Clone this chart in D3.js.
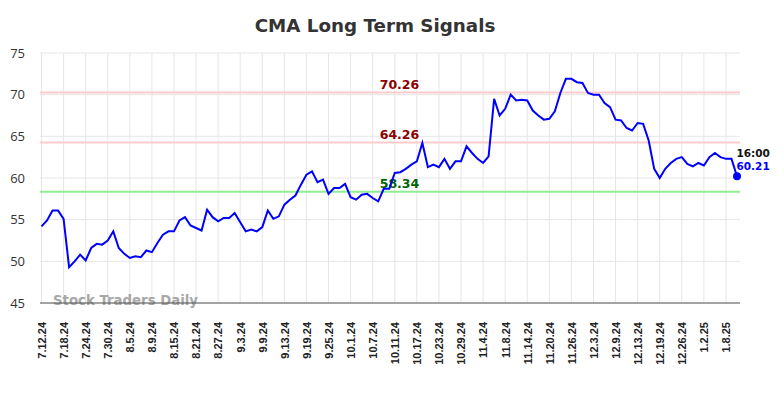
<!DOCTYPE html>
<html>
<head>
<meta charset="utf-8">
<script src="https://cdn.jsdelivr.net/npm/d3@7"></script>
<style>
  body { margin: 0; background: #fff; }
</style>
</head>
<body>
<div id="chart"></div>
<script>

// ─── DATA ───────────────────────────────────────────────────────────────────────
let tickLabels = ['7.12.24', '7.18.24', '7.24.24', '7.30.24', '8.5.24', '8.9.24', '8.15.24', '8.21.24',
  '8.27.24', '9.3.24', '9.9.24', '9.13.24', '9.19.24', '9.25.24', '10.1.24', '10.7.24', '10.11.24',
  '10.17.24', '10.23.24', '10.29.24', '11.4.24', '11.8.24', '11.14.24', '11.20.24', '11.26.24',
  '12.3.24', '12.9.24', '12.13.24', '12.19.24', '12.26.24', '1.2.25', '1.8.25']

// closing values, one per trading day
let closes = [
  54.2, 54.9, 56.1, 56.1, 55.1, 49.3, 50.0, 50.8, 50.1, 51.6,
  52.1, 52.0, 52.5, 53.6, 51.6, 50.9, 50.4, 50.6, 50.5, 51.3,
  51.1, 52.2, 53.2, 53.6, 53.6, 54.9, 55.3, 54.3, 54.0, 53.7,
  56.2, 55.3, 54.8, 55.2, 55.2, 55.8, 54.7, 53.6, 53.8, 53.6,
  54.1, 56.1, 55.1, 55.4, 56.8, 57.4, 57.9, 59.2, 60.4, 60.8,
  59.5, 59.8, 58.1, 58.8, 58.8, 59.3, 57.7, 57.4, 58.0, 58.1,
  57.6, 57.2, 58.7, 58.7, 60.6, 60.7, 61.1, 61.6, 62.0, 64.2,
  61.3, 61.6, 61.3, 62.3, 61.1, 62.0, 62.0, 63.8, 63.0, 62.3,
  61.8, 62.6, 69.5, 67.5, 68.3, 70.0, 69.3, 69.4, 69.3, 68.1,
  67.5, 67.0, 67.1, 68.0, 70.2, 71.9, 71.9, 71.5, 71.4, 70.2,
  70.0, 70.0, 69.0, 68.5, 67.0, 66.9, 66.0, 65.7, 66.6, 66.5,
  64.5, 61.1, 60.0, 61.1, 61.8, 62.3, 62.5, 61.7, 61.4, 61.8,
  61.5, 62.5, 63.0, 62.5, 62.3, 62.3, 60.21
]

// signal levels
let signalValues = [70.26, 64.26, 58.34]
let signalLines = ['#ffcccc', '#ffcccc', '#90ee90']
let signalText = ['#8b0000', '#8b0000', '#006400']

let yTicks = [45, 50, 55, 60, 65, 70, 75]
let lastTime = '16:00'

// ─── CANVAS ─────────────────────────────────────────────────────────────────────
let W = 784, H = 398
let plot = {left: 40, right: 740, top: 53, bottom: 303}

let svg = d3.select('#chart')
  .append('svg')
  .attr('width', W)
  .attr('height', H)
  .style('background', '#fff')
  .style('font-family', 'DejaVu Sans, sans-serif')

// ─── SCALES ─────────────────────────────────────────────────────────────────────
let xScale = d3.scaleLinear()
  .domain([0, closes.length - 1])
  .range([41.5, 737])

let yScale = d3.scaleLinear()
  .domain([45, 75])
  .range([plot.bottom, plot.top])

let tickIdx = tickLabels.map((d, i) => i * 4)

// ─── GRID ───────────────────────────────────────────────────────────────────────
svg.append('g')
  .selectAll('line')
  .data(yTicks)
  .enter().append('line')
  .attr('x1', plot.left)
  .attr('x2', plot.right)
  .attr('y1', d => yScale(d))
  .attr('y2', d => yScale(d))
  .attr('stroke', '#e6e6e6')
  .attr('stroke-width', 1)

svg.append('g')
  .selectAll('line')
  .data(tickIdx)
  .enter().append('line')
  .attr('x1', d => xScale(d))
  .attr('x2', d => xScale(d))
  .attr('y1', plot.top)
  .attr('y2', plot.bottom)
  .attr('stroke', '#e6e6e6')
  .attr('stroke-width', 1)

// ─── Y AXIS ─────────────────────────────────────────────────────────────────────
let yAxisCall = d3.axisLeft(yScale).tickValues(yTicks).tickSize(0).tickPadding(0)
let yAxis = svg.append('g')
  .attr('transform', 'translate(25, 0)')
  .call(yAxisCall)
yAxis.select('.domain').remove()
yAxis.selectAll('text')
  .style('font-family', 'Open Sans, sans-serif')
  .style('font-size', '13px')
  .attr('fill', '#333')

// ─── X AXIS ─────────────────────────────────────────────────────────────────────
let xAxisCall = d3.axisBottom(xScale)
  .tickValues(tickIdx)
  .tickFormat((d, i) => tickLabels[i])
  .tickSize(0)
let xAxis = svg.append('g')
  .attr('transform', `translate(0, ${plot.bottom})`)
  .call(xAxisCall)
xAxis.select('.domain').remove()
xAxis.selectAll('text')
  .style('font-size', '11px')
  .style('font-weight', 'bold')
  .attr('fill', '#222')
  .style('text-anchor', 'end')
  .attr('transform', 'rotate(-90)')
  .attr('x', -19)
  .attr('y', 0)
  .attr('dy', '0.35em')

// ─── SIGNAL LINES ───────────────────────────────────────────────────────────────
signalValues.forEach((v, i) => {
  svg.append('line')
    .attr('x1', plot.left)
    .attr('x2', plot.right)
    .attr('y1', yScale(v))
    .attr('y2', yScale(v))
    .attr('stroke', signalLines[i])
    .attr('stroke-width', 2)
  svg.append('text')
    .attr('x', 399.5)
    .attr('y', yScale(v) - 3.5)
    .attr('text-anchor', 'middle')
    .style('font-size', '12.5px')
    .style('font-weight', 'bold')
    .attr('fill', signalText[i])
    .text(v.toFixed(2))
})

// ─── WATERMARK ──────────────────────────────────────────────────────────────────
svg.append('text')
  .attr('x', 53)
  .attr('y', 305)
  .style('font-size', '13.3px')
  .style('font-weight', 'bold')
  .attr('fill', '#999')
  .attr('opacity', 0.85)
  .text('Stock Traders Daily')

// bottom axis line
svg.append('line')
  .attr('x1', plot.left)
  .attr('x2', plot.right)
  .attr('y1', plot.bottom)
  .attr('y2', plot.bottom)
  .attr('stroke', '#555')
  .attr('stroke-width', 1)

// ─── PRICE LINE ─────────────────────────────────────────────────────────────────
let line = d3.line()
  .x((d, i) => xScale(i))
  .y(d => yScale(d))

svg.append('path')
  .datum(closes)
  .attr('d', line)
  .attr('fill', 'none')
  .attr('stroke', '#0000ff')
  .attr('stroke-width', 2)

let lastI = closes.length - 1
svg.append('circle')
  .attr('cx', xScale(lastI))
  .attr('cy', yScale(closes[lastI]))
  .attr('r', 4)
  .attr('fill', '#0000ff')

svg.append('text')
  .attr('x', xScale(lastI) - 0.5)
  .attr('y', yScale(closes[lastI]) - 19.5)
  .style('font-size', '10.5px')
  .style('font-weight', 'bold')
  .attr('fill', '#111')
  .text(lastTime)
svg.append('text')
  .attr('x', xScale(lastI) - 0.5)
  .attr('y', yScale(closes[lastI]) - 6)
  .style('font-size', '10.5px')
  .style('font-weight', 'bold')
  .attr('fill', '#0000ff')
  .text(closes[lastI].toFixed(2))

// ─── TITLE ──────────────────────────────────────────────────────────────────────
svg.append('text')
  .attr('x', 375)
  .attr('y', 32)
  .attr('text-anchor', 'middle')
  .style('font-size', '18.3px')
  .style('font-weight', 'bold')
  .attr('fill', '#333')
  .text('CMA Long Term Signals')

</script>
</body>
</html>
